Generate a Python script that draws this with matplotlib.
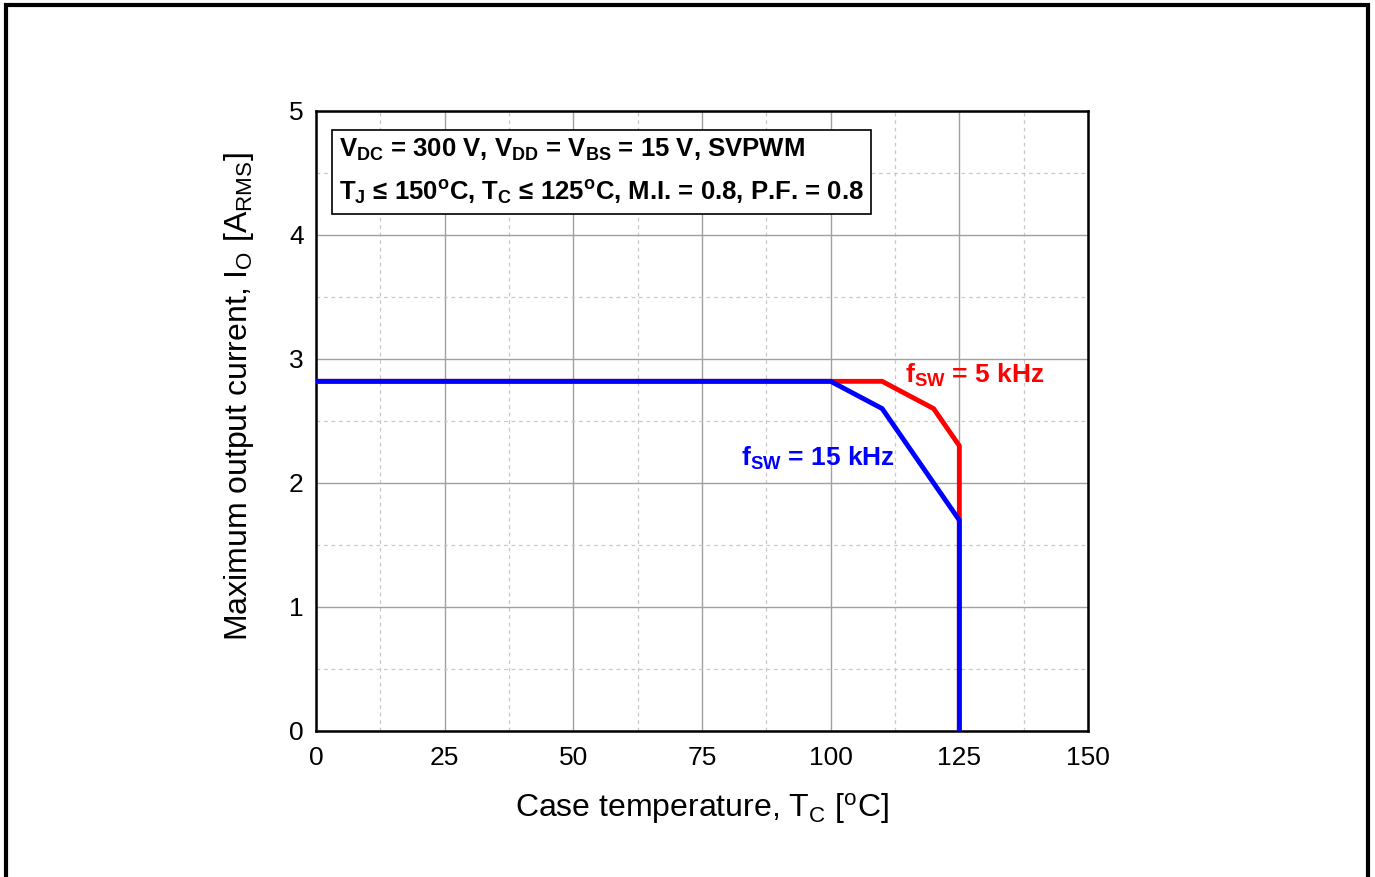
import matplotlib
matplotlib.use("Agg")
import matplotlib.pyplot as plt
from matplotlib.patches import Rectangle

plt.rcParams["font.family"] = ["Liberation Sans", "DejaVu Sans"]
plt.rcParams["mathtext.default"] = "regular"

# derating curves, case temperature [degC] vs max output current [A_RMS]
tc_5k = [0, 100, 110, 120, 125, 125]
io_5k = [2.82, 2.82, 2.82, 2.60, 2.30, 0.0]
tc_15k = [0, 100, 110, 125, 125]
io_15k = [2.82, 2.82, 2.60, 1.70, 0.0]

x_ticks = [0, 25, 50, 75, 100, 125, 150]
y_ticks = [0, 1, 2, 3, 4, 5]

fig = plt.figure(figsize=(13.75, 8.77), dpi=100)
ax = fig.add_axes([316 / 1375, 1 - 731 / 877, (1088 - 316) / 1375, (731 - 111) / 877])

ax.plot(tc_5k, io_5k, color="#ff0000", lw=3.5, solid_joinstyle="miter", zorder=3)
ax.plot(tc_15k, io_15k, color="#0000ff", lw=3.5, solid_joinstyle="miter", zorder=4)

ax.set_xlim(0, 150)
ax.set_ylim(0, 5)
ax.set_xticks(x_ticks)
ax.set_yticks(y_ticks)
ax.set_xticks([12.5 + 25 * i for i in range(6)], minor=True)
ax.set_yticks([0.5 + i for i in range(5)], minor=True)
ax.grid(True, which="major", color="#a0a0a0", lw=1.0)
ax.grid(True, which="minor", color="#c8c8c8", lw=0.9, ls=(0, (3, 3)))
ax.tick_params(which="both", length=0, labelsize=19, pad=9)
ax.tick_params(axis="x", pad=11)
for s in ax.spines.values():
    s.set_linewidth(1.8)

ax.set_xlabel("Case temperature, T$_C$ [$^o$C]", fontsize=23, labelpad=15)
ax.set_ylabel("Maximum output current, I$_O$ [A$_{RMS}$]", fontsize=23)
ax.yaxis.set_label_coords(-0.078, 0.539)

cond = ("V$_{DC}$ = 300 V, V$_{DD}$ = V$_{BS}$ = 15 V, SVPWM\n"
        "T$_J$ \u2264 150$^o$C, T$_C$ \u2264 125$^o$C, M.I. = 0.8, P.F. = 0.8")
ax.text(4.5, 4.79, cond, fontsize=18.5, fontweight="bold", va="top", ha="left",
        linespacing=1.72, zorder=6,
        bbox=dict(boxstyle="square,pad=0.28", fc="white", ec="black", lw=1.2))

ax.text(114.5, 2.87, "f$_{SW}$ = 5 kHz", color="#ff0000", fontsize=19,
        fontweight="bold", ha="left", va="center", zorder=6)
ax.text(82.5, 2.2, "f$_{SW}$ = 15 kHz", color="#0000ff", fontsize=19,
        fontweight="bold", ha="left", va="center", zorder=6)

fig.patches.append(Rectangle((6 / 1375, -0.05), (1368 - 6) / 1375, 1.05 - 5 / 877,
                             transform=fig.transFigure, fill=False, ec="black",
                             lw=3, clip_on=False))

fig.savefig("out.png", dpi=100)
